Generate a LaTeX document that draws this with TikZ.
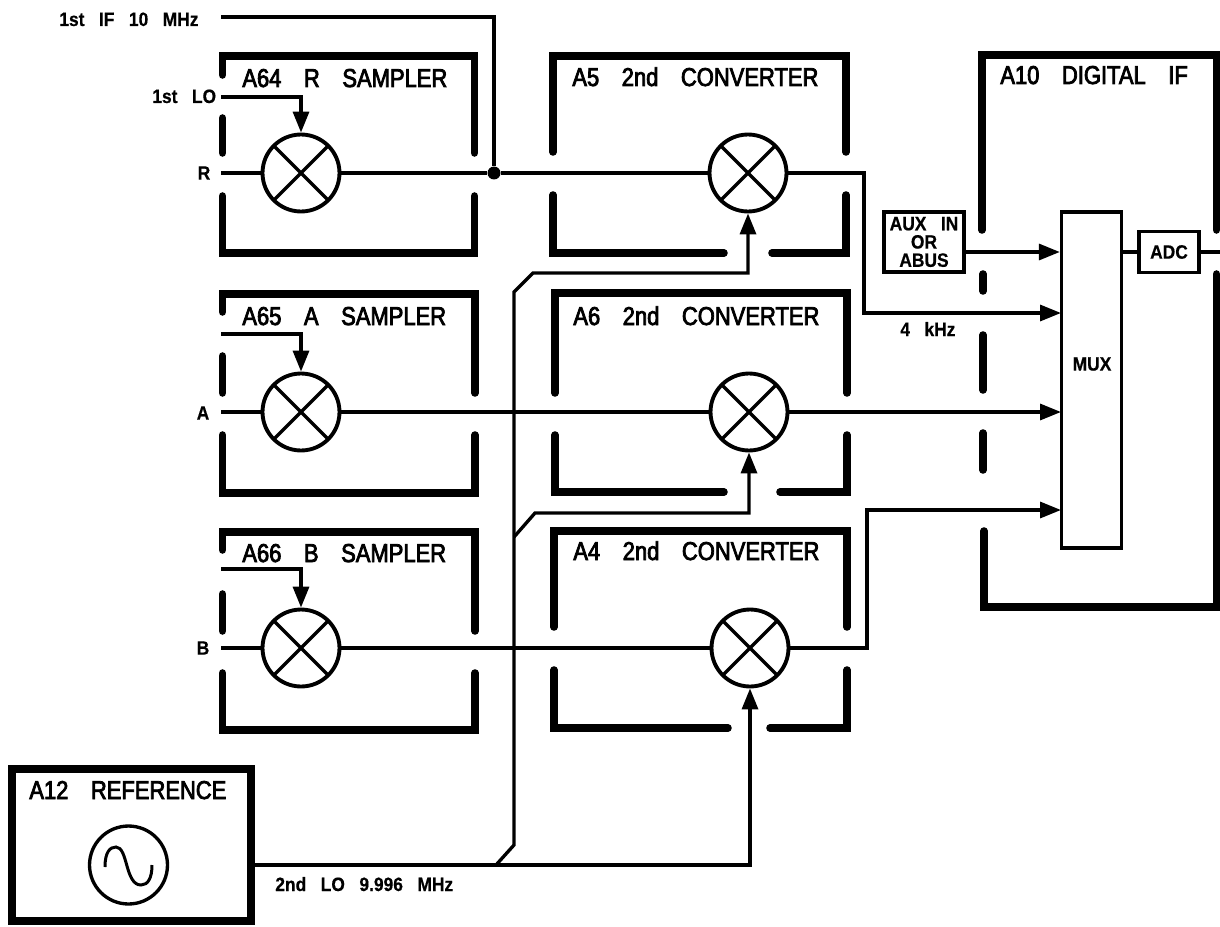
\documentclass[tikz,border=0pt]{standalone}
\usepackage{fontspec}
\usepackage{tikz}
\usetikzlibrary{arrows.meta, positioning}
\newfontfamily\panelfont[FakeStretch=0.85,WordSpace=3.7,FakeBold=3]{Liberation Sans}
\newfontfamily\tagfont[FakeStretch=0.9,WordSpace=3,FakeBold=0.5]{Liberation Sans}

\begin{document}
\begin{tikzpicture}[
  x=0.02cm, y=-0.02cm,
  wall/.style={line width=4.3pt, line cap=round},
  wire/.style={line width=1.9pt},
  arrow/.style={wire, -{Triangle[length=0.42cm, width=0.32cm]}},
  mixer/.style={circle, draw, line width=2.2pt, minimum size=1.54cm, inner sep=0pt,
                path picture={\draw[line width=1.9pt]
                  (path picture bounding box.north west) -- (path picture bounding box.south east)
                  (path picture bounding box.north east) -- (path picture bounding box.south west);}},
  dot/.style={circle, fill=black, inner sep=0pt, minimum size=0.26cm},
  smallbox/.style={rectangle, draw, line width=1.9pt, inner sep=0pt},
  panel/.style={anchor=base west, inner sep=0pt, font=\panelfont\fontsize{14.7}{16}\selectfont},
  tag/.style={inner sep=0pt, font=\tagfont\bfseries\fontsize{11}{10.4}\selectfont}
]
\useasboundingbox (0,0) rectangle (1220,926);

% panel walls
\draw[wall] (222.5,75) -- (222.5,56) -- (474.5,56) -- (474.5,153)
            (222.5,118) -- (222.5,153)
            (222.5,196) -- (222.5,253) -- (474.5,253) -- (474.5,196);
\draw[wall] (222.5,312) -- (222.5,294) -- (475,294) -- (475,393)
            (222.5,356) -- (222.5,393)
            (222.5,435) -- (222.5,493) -- (475,493) -- (475,435);
\draw[wall] (222.5,550) -- (222.5,532) -- (475,532) -- (475,631)
            (222.5,594) -- (222.5,631)
            (222.5,673) -- (222.5,730) -- (475,730) -- (475,673);
\draw[wall] (553,152) -- (553,56) -- (846,56) -- (846,152)
            (553,195) -- (553,253) -- (724,253)
            (772,253) -- (846,253) -- (846,195);
\draw[wall] (555,393) -- (555,293) -- (847,293) -- (847,393)
            (555,435) -- (555,492) -- (724,492)
            (780,492) -- (847,492) -- (847,435);
\draw[wall] (554,627) -- (554,531) -- (847,531) -- (847,627)
            (554,670) -- (554,728) -- (728,728)
            (770,728) -- (847,728) -- (847,670);
\draw[wall] (982,230) -- (982,55) -- (1216.5,55) -- (1216.5,230)
            (983,274) -- (983,291)
            (983,335) -- (983,390)
            (983,433) -- (983,470)
            (984,531) -- (984,607) -- (1216.5,607) -- (1216.5,274);
\node[rectangle, draw, line width=4.3pt, minimum width=4.78cm, minimum height=3.04cm] (refbox) at (131.5,845) {};

% panel titles
\node[panel] (rsampler) at (242,87) {A64 R SAMPLER};
\node[panel] (asampler) at (242,325) {A65 A SAMPLER};
\node[panel] (bsampler) at (242,562) {A66 B SAMPLER};
\node[panel] (conv5) at (572,86) {A5 2nd CONVERTER};
\node[panel] (conv6) at (573,325) {A6 2nd CONVERTER};
\node[panel] (conv4) at (573,560) {A4 2nd CONVERTER};
\node[panel] (digif) at (1000,84) {A10 DIGITAL IF};
\node[panel] (reftitle) at (29,799) {A12 REFERENCE};

% mixers
\node[mixer] (mixr) at (301,173) {};
\node[mixer] (mixa) at (301,412) {};
\node[mixer] (mixb) at (301,648) {};
\node[mixer] (mix5) at (748,173) {};
\node[mixer] (mix6) at (749,412) {};
\node[mixer] (mix4) at (750,648) {};

% oscillator
\node[circle, draw, line width=1.9pt, minimum size=1.56cm, inner sep=0pt] (osc) at (128.5,865) {};
\draw[line width=1.7pt] (105,867) .. controls (105,852) and (110,847) .. (116,847)
  .. controls (128,847) and (125,885) .. (141,885)
  .. controls (148,885) and (152,878) .. (152,865);

% right hand blocks
\node[smallbox, minimum width=1.2cm, minimum height=6.72cm] (mux) at (1091.5,380) {};
\node[smallbox, minimum width=1.2cm, minimum height=0.82cm, tag] (adc) at (1169,252) {ADC};
\node[smallbox, minimum width=1.6cm, minimum height=1.2cm, align=center, tag] (aux) at (924,242) {AUX IN\\OR\\ABUS};
\node[tag] (muxtext) at (1092,364) {MUX};

% signal labels
\node[tag, anchor=base west] (iftext) at (59,26) {1st IF 10 MHz};
\node[tag, anchor=base west] (lotext) at (152,103) {1st LO};
\node[tag] (rtext) at (204,173) {R};
\node[tag] (atext) at (203,413) {A};
\node[tag] (btext) at (203,648) {B};
\node[tag, anchor=base west] (khz) at (900,336) {4 kHz};
\node[tag, anchor=base west] (lo2text) at (275,891) {2nd LO 9.996 MHz};

% free ends
\coordinate (ifin) at (221,17);
\coordinate (loin) at (221,97);
\coordinate (loa) at (221,334);
\coordinate (lob) at (221,569);
\coordinate (rin) at (221,173);
\coordinate (ain) at (221,412);
\coordinate (bin) at (221,648);
\coordinate (adcout) at (1220,252);
\coordinate (muxr) at (1061,313);
\coordinate (muxa) at (1061,412);
\coordinate (muxb) at (1061,510);
\coordinate (lotap) at (496,865);
\coordinate (lotap6) at (514,537);
\node[dot] (tee) at (494,173) {};

% connectors
\draw[wire] (ifin) -| (tee);
\draw[arrow] (loin) -| (mixr.north);
\draw[arrow] (loa) -| (mixa.north);
\draw[arrow] (lob) -| (mixb.north);
\draw[wire] (rin) -- (mixr.west);
\draw[wire] (ain) -- (mixa.west);
\draw[wire] (bin) -- (mixb.west);
\draw[wire] (mixr.east) -- (tee) -- (mix5.west);
\draw[wire] (mixa.east) -- (mix6.west);
\draw[wire] (mixb.east) -- (mix4.west);
\draw[arrow] (mix5.east) -- (864,173) |- (muxr);
\draw[arrow] (mix6.east) -- (muxa);
\draw[arrow] (mix4.east) -- (867,648) |- (muxb);
\draw[arrow] (aux.east |- adc) -- (mux.west |- adc);
\draw[wire] (mux.east |- adc) -- (adc.west);
\draw[wire] (adc.east) -- (adcout);
\draw[arrow] (refbox.east |- osc) -| (mix4.south);
\draw[arrow] (lotap) -- (514,845) -- (514,292) -- (533,273) -| (mix5.south);
\draw[arrow] (lotap6) -- (535,513) -| (mix6.south);
\end{tikzpicture}
\end{document}
